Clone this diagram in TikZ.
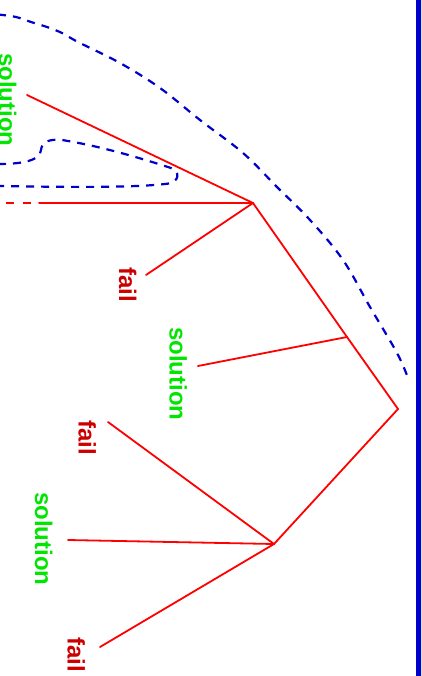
\documentclass[tikz,border=0pt]{standalone}
\usepackage{fontspec}
\setmainfont{Liberation Sans}
\definecolor{solgreen}{RGB}{0,230,0}
\definecolor{faildred}{RGB}{204,0,0}
\definecolor{linered}{RGB}{255,0,0}
\definecolor{darkblue}{RGB}{0,0,204}
\tikzset{
  branch/.style={draw=linered, line width=1.8pt, line cap=round, line join=miter},
  region/.style={draw=darkblue, line width=2.2pt, dash pattern=on 8pt off 7pt},
  lab/.style={rotate=-90, anchor=base west, inner sep=0pt, font=\fontsize{24}{28}\selectfont\bfseries},
  sol/.style={lab, text=solgreen},
  fl/.style={lab, text=faildred}
}
\begin{document}
\begin{tikzpicture}[x=1pt,y=-1pt]
\useasboundingbox (0,0) rectangle (421,676);
\begin{scope}
\clip (0,0) rectangle (421,676);
% blue bar
\fill[darkblue] (415.5,-1) rectangle (422,677);
% big dashed arc
\draw[region] plot[smooth, tension=0.6] coordinates {(-2,14.5) (16,17) (31,22) (47,27) (62,33) (78,42) (120,63) (160,88) (200,120) (243,153) (277,187) (310,220) (343,260) (370,307) (397,353) (408,378)};
% small dashed blob
\draw[region] (-2,164) .. controls (25,164) and (40,160) .. (41,150)
  .. controls (42,141) and (50,139) .. (62,140)
  .. controls (100,146) and (140,158) .. (168,167)
  .. controls (182,171) and (180,183) .. (165,184)
  .. controls (130,188) and (60,187) .. (-2,186);
% junction points
\coordinate (A) at (253,203);
\coordinate (M) at (347,337);
\coordinate (B) at (398,409);
\coordinate (C) at (274,544);
\coordinate (e0) at (39,203);
\coordinate (e0d) at (6,203);
\coordinate (e0e) at (31,203);
\coordinate (e1) at (27,95);
\coordinate (e2) at (146,275);
\coordinate (e3) at (198,366);
\coordinate (e4) at (108,422);
\coordinate (e5) at (68,540);
\coordinate (e6) at (100,647);
% labels
\node[sol] (s1) at (-1,53) {solution};
\node[fl] (f1) at (119,267) {fail};
\node[sol] (s2) at (169.5,327) {solution};
\node[fl] (f2) at (78.5,420) {fail};
\node[sol] (s3) at (35,492) {solution};
\node[fl] (f3) at (67.5,637) {fail};
% red tree
\draw[branch] (e0) -- (A);
\draw[branch, line cap=butt, dash pattern=on 8pt off 9pt] (e0d) -- (e0e);
\draw[branch] (e1) -- (A);
\draw[branch] (e2) -- (A);
\draw[branch] (A) -- (M) -- (B) -- (C);
\draw[branch] (e3) -- (M);
\draw[branch] (e4) -- (C);
\draw[branch] (e5) -- (C);
\draw[branch] (e6) -- (C);
\end{scope}
\end{tikzpicture}
\end{document}
